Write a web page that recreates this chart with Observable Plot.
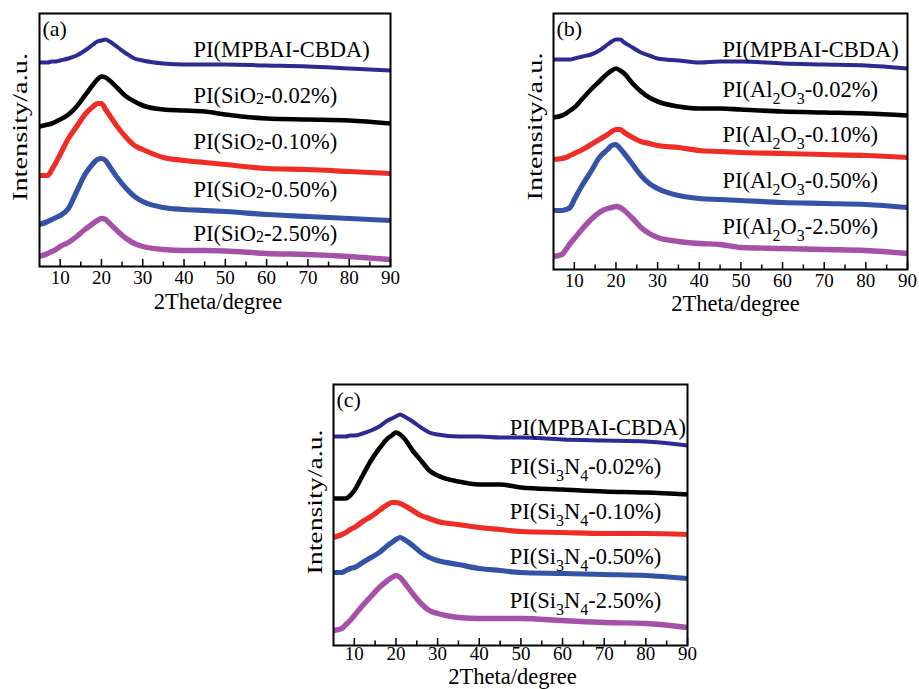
<!DOCTYPE html>
<html><head><meta charset="utf-8">
<script src="https://cdn.jsdelivr.net/npm/d3@7"></script>
<script src="https://cdn.jsdelivr.net/npm/@observablehq/plot@0.6"></script>
<style>
html,body{margin:0;padding:0;background:#fff;}
#wrap{position:relative;width:919px;height:689px;overflow:hidden;background:#fff;}
.panel{position:absolute;}
</style></head><body><div id="wrap">
<div class="panel" id="pa" style="left:0px;top:0px"></div>
<div class="panel" id="pb" style="left:510px;top:0px"></div>
<div class="panel" id="pc" style="left:290px;top:370px"></div>
</div>
<script>
// ---- data (2Theta in degrees, intensity in a.u.) ----
const twoTheta = [5,7,8,9,10,12,14,16,18,19,20,21,22,24,26,28,30,35,40,45,50,60,70,80,90];

// panel (a) SiO2
const aPure   = [204,204,205,205,206,208,211,216,222,225,226,227,225,219,213,208,206,203,202,202,202,201,200,198,196];
const aSi002  = [140,142,143,145,147,152,160,171,182,187,190,189,186,178,170,165,161,157,156,155,152,148,147,146,143];
const aSi010  = [91,91,97,104,112,128,140,152,160,163,163,157,151,139,129,121,117,109,106,104,102,98,97,95,93];
const aSi050  = [42,45,47,49,51,58,75,92,103,107,108,106,100,88,78,70,65,59,57,56,55,52,50,48,46];
const aSi250  = [10,13,15,17,20,24,30,37,43,46,48,47,43,35,28,23,20,17,16,16,15.5,13,12,10,7];

// panel (b) Al2O3
const bPure   = [210,210,210,210,211,213,215,219,225,228,230,230,227,222,217,214,211,209,207,208,208,206,205,204,201];
const bAl002  = [152,154,156,159,162,171,180,188,196,199,201,199,196,186,178,172,168,163,161,161,160,158,157,156,154];
const bAl010  = [110,111,112,114,116,120,125,130,135,138,140,140,137,132,128,126,124,122,119,118,117,116,115,114,112];
const bAl050  = [59,59,60,62,70,85,98,112,120,124,125,121,116,105,94,86,81,74,71,70,69,67,66,65,62];
const bAl250  = [13,15,20,26,31,41,50,57,61,62,63,62,59,51,42,36,32,28,26,25,22,21,20,19,16];

// panel (c) Si3N4
const cPure   = [209,209,209,210,210,212,215,219,225,227,229,231,229,224,218,213,211,209,209,208,208,206,205,204,200];
const cSn002  = [147,147,147,150,155,170,185,197,207,210,213,211,207,195,185,175,170,164,161,161,158,156,154,153,151];
const cSn010  = [108,111,113,116,118,124,129,135,141,143,143,142,140,135,130,127,124,121,118,116,114,113,112,112,111];
const cSn050  = [73,73,75,77,78,83,88,93,100,103,106,108,106,100,93,88,85,81,77,75,73,72,71,70,67];
const cSn250  = [15,17,21,25,30,40,49,58,65,68,70,68,63,52,42,35,32,28,27,27,27,25,23,22,18];

// text
const labelsA = ["PI(MPBAI-CBDA)","PI(SiO~2-0.02%)","PI(SiO~2-0.10%)","PI(SiO~2-0.50%)","PI(SiO~2-2.50%)"];
const labelsB = ["PI(MPBAI-CBDA)","PI(Al_2O_3-0.02%)","PI(Al_2O_3-0.10%)","PI(Al_2O_3-0.50%)","PI(Al_2O_3-2.50%)"];
const labelsC = ["PI(MPBAI-CBDA)","PI(Si_3N_4-0.02%)","PI(Si_3N_4-0.10%)","PI(Si_3N_4-0.50%)","PI(Si_3N_4-2.50%)"];
const majorTicks = [10,20,30,40,50,60,70,80,90];
const minorTicks = [15,25,35,45,55,65,75,85];
const xTitle = "2Theta/degree";
const yTitle = "Intensity/a.u.";

// ---- styling / layout ----
const colors = ["#2b2b93","#000000","#ee2e26","#3553a6","#a551a8"];
const widths = [4, 4.6, 5.2, 5.2, 5.4];
const FONT = "Liberation Serif, Times New Roman, serif";

function panel(cfg) {
  const marks = [];
  cfg.series.forEach((vals, s) => {
    marks.push(Plot.line(twoTheta, {x: d => d, y: (d, i) => vals[i], stroke: colors[s],
      strokeWidth: widths[s], curve: "monotone-x", strokeLinejoin: "round", strokeLinecap: "butt"}));
  });
  marks.push(Plot.frame({stroke: "black", strokeWidth: 2}));
  marks.push(Plot.axisX({ticks: majorTicks, tickSize: -7, tickPadding: cfg.tickPad, fontSize: 19,
    label: null, strokeWidth: 1.5, fill: "black"}));
  marks.push(Plot.axisX({ticks: minorTicks, tickSize: -4.5, tickFormat: () => "",
    label: null, strokeWidth: 1.5}));
  marks.push(Plot.text(cfg.labels, {x: () => cfg.labelX, y: (d, i) => cfg.labelY[i], text: d => d,
    textAnchor: "start", lineAnchor: "middle", fontSize: 22.5, fill: "black"}));
  marks.push(Plot.text([cfg.letter], {frameAnchor: "top-left", dx: 3, dy: 7, text: d => d,
    textAnchor: "start", lineAnchor: "top", fontSize: 22, fill: "black"}));
  marks.push(Plot.text([xTitle], {frameAnchor: "bottom", dx: cfg.xTitleDx, dy: cfg.xTitleDy, text: d => d,
    textAnchor: "middle", lineAnchor: "middle", fontSize: 22.5, fill: "black"}));
  marks.push(Plot.text([yTitle], {frameAnchor: "left", rotate: -90, dx: cfg.yTitleDx, dy: cfg.yTitleDy, text: d => d,
    textAnchor: "middle", lineAnchor: "middle", fontSize: 22, fill: "black"}));
  const svg = Plot.plot({
    width: cfg.width, height: cfg.height,
    marginLeft: cfg.m[0], marginRight: cfg.m[1], marginTop: cfg.m[2], marginBottom: cfg.m[3],
    x: {domain: [5, 90]},
    y: {domain: [0, cfg.yMax], axis: null},
    style: {fontFamily: FONT, background: "white", color: "black", overflow: "visible"},
    marks
  });
  svg.querySelectorAll('[aria-label="x-axis tick-label"], [aria-label="x-axis tick label"]').forEach(g => {
    g.setAttribute("font-size", "19");
    g.style.fontSize = "19px";
    g.style.fontVariant = "normal";
    g.querySelectorAll("text").forEach(t => { t.setAttribute("font-size", "19"); });
  });
  // subscripts: "_d" lowered subscript, "~d" small digit on baseline
  svg.querySelectorAll("text").forEach(t => {
    const s = t.textContent;
    if (s === yTitle) {
      t.setAttribute("textLength", cfg.yTitleLen);
      t.setAttribute("lengthAdjust", "spacingAndGlyphs");
    }
    if (!/[_~]\d/.test(s)) return;
    while (t.firstChild) t.removeChild(t.firstChild);
    const parts = s.split(/([_~]\d)/);
    let shift = 0;
    parts.forEach(p => {
      if (!p) return;
      const ts = document.createElementNS("http://www.w3.org/2000/svg", "tspan");
      if (/^[_~]\d$/.test(p)) {
        const down = p[0] === "_" ? 7 : 1;
        ts.textContent = p[1];
        ts.setAttribute("font-size", "16");
        ts.setAttribute("dy", down - shift);
        shift = down;
      } else {
        ts.textContent = p;
        if (shift) ts.setAttribute("dy", -shift);
        shift = 0;
      }
      t.appendChild(ts);
    });
  });
  document.getElementById(cfg.el).appendChild(svg);
}

panel({el: "pa", width: 420, height: 320, m: [39, 30, 13, 54], yMax: 253, tickPad: 11,
  series: [aPure, aSi002, aSi010, aSi050, aSi250], labels: labelsA,
  labelX: 42.3, labelY: [217, 171, 125, 77, 33], letter: "(a)",
  xTitleDx: 3, xTitleDy: 35, yTitleDx: -20, yTitleDy: -13, yTitleLen: 148});
panel({el: "pb", width: 409, height: 320, m: [43, 12, 13, 51], yMax: 256, tickPad: 11,
  series: [bPure, bAl002, bAl010, bAl050, bAl250], labels: labelsB,
  labelX: 45.6, labelY: [220, 180, 135, 89, 43], letter: "(b)",
  xTitleDx: 5, xTitleDy: 34, yTitleDx: -19, yTitleDy: -15, yTitleLen: 148});
panel({el: "pc", width: 420, height: 319, m: [43, 23, 14, 44], yMax: 261, tickPad: 8,
  series: [cPure, cSn002, cSn010, cSn050, cSn250], labels: labelsC,
  labelX: 47.3, labelY: [218, 179, 134, 89, 45], letter: "(c)",
  xTitleDx: 2, xTitleDy: 31, yTitleDx: -19, yTitleDy: -13, yTitleLen: 145});
</script>
</body></html>
